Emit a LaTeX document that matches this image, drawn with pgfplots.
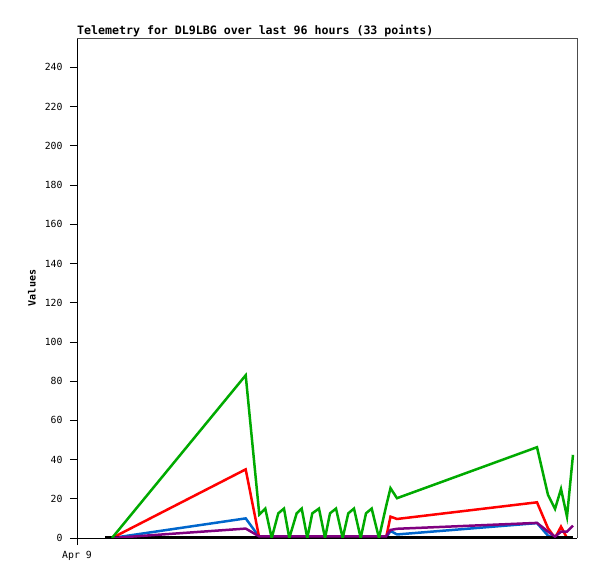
\documentclass[border=0pt]{standalone}
\usepackage{fontspec}
\setmainfont{DejaVu Sans Mono}
\usepackage{pgfplots}
\usepackage{pgfplotstable}
\pgfplotsset{compat=1.18}
\definecolor{cgreen}{RGB}{0,170,0}
\definecolor{cred}{RGB}{255,0,0}
\definecolor{cblue}{RGB}{0,102,204}
\definecolor{cpurple}{RGB}{128,0,128}
\pgfplotstableread{
x     g     r     b     p     k
5.38  nan   nan   nan   nan   0
6.72  0     0     0     0     0
32.39 83    35    10    4.8   0
35.00 12    0     0.5   0.8   0
36.15 15    0     0     0.8   0
37.38 0     0     0     0.8   0
38.65 12.6  0     0     0.8   0
39.74 15    0     0     0.8   0
40.76 0     0     0     0.8   0
42.18 12.6  0     0     0.8   0
43.14 15    0     0     0.8   0
44.22 0     0     0     0.8   0
45.18 12.6  0     0     0.8   0
46.46 15    0     0     0.8   0
47.62 0     0     0     0.8   0
48.58 12.6  0     0     0.8   0
49.73 15    0     0     0.8   0
51.01 0     0     0     0.8   0
52.09 12.6  0     0     0.8   0
53.18 15    0     0     0.8   0
54.47 0     0     0     0.8   0
55.49 12.6  0     0     0.8   0
56.58 15    0     0     0.8   0
57.98 0     0     0     0.8   0
59.33 16    0     0     0.8   0
60.19 25.4  10.9  3.6   4.1   0
61.44 20.3  9.7   1.8   4.7   0
88.32 46.3  18.2  7.6   7.7   0
90.43 22    5     1.2   3.3   0
91.78 14.8  0     0     0.7   0
92.93 25    5.8   0     3.2   0
94.08 10.9  0     0     3.2   0
95.23 42.4  nan   nan   6.3   0
}\datatable
\begin{document}
\begin{tikzpicture}
\begin{axis}[
  name=ax,
  scale only axis,
  width=500bp, height=500bp,
  xmin=0, xmax=96, ymin=0, ymax=255,
  axis lines=left,
  axis line style={-, black, line width=0.8bp},
  ytick={0,20,...,240},
  xtick={0}, xticklabels={Apr 9},
  tick align=outside,
  major tick length=7bp,
  tick style={black, line width=0.8bp},
  /pgf/number format/assume math mode=true,
  ticklabel style={font=\fontsize{9.8bp}{11bp}\selectfont},
  yticklabel style={xshift=-4bp},
  xticklabel style={yshift=-3bp},
  ylabel={\bfseries Values},
  ylabel style={font=\fontsize{10bp}{12bp}\selectfont, at={(axis description cs:-0.09,0.5)}, anchor=center},
]
\addplot[cblue, line width=2.5bp] table[x=x, y=b] {\datatable};
\addplot[cred, line width=2.5bp] table[x=x, y=r] {\datatable};
\addplot[black, line width=3bp] table[x=x, y=k] {\datatable};
\addplot[cpurple, line width=2.5bp] table[x=x, y=p] {\datatable};
\addplot[cgreen, line width=2.5bp] table[x=x, y=g] {\datatable};
\end{axis}
\draw[gray!60!black, line width=0.8bp] (ax.north west) -- (ax.north east) -- (ax.south east);
\node[anchor=base west, inner sep=0pt, font=\fontsize{11.6bp}{13bp}\selectfont\bfseries] at ([yshift=3bp]ax.north west) {Telemetry for DL9LBG over last 96 hours (33 points)};
\pgfresetboundingbox
\path ([shift={(-77bp,-41bp)}]ax.south west) rectangle ([shift={(20bp,38bp)}]ax.north east);
\end{tikzpicture}
\end{document}
